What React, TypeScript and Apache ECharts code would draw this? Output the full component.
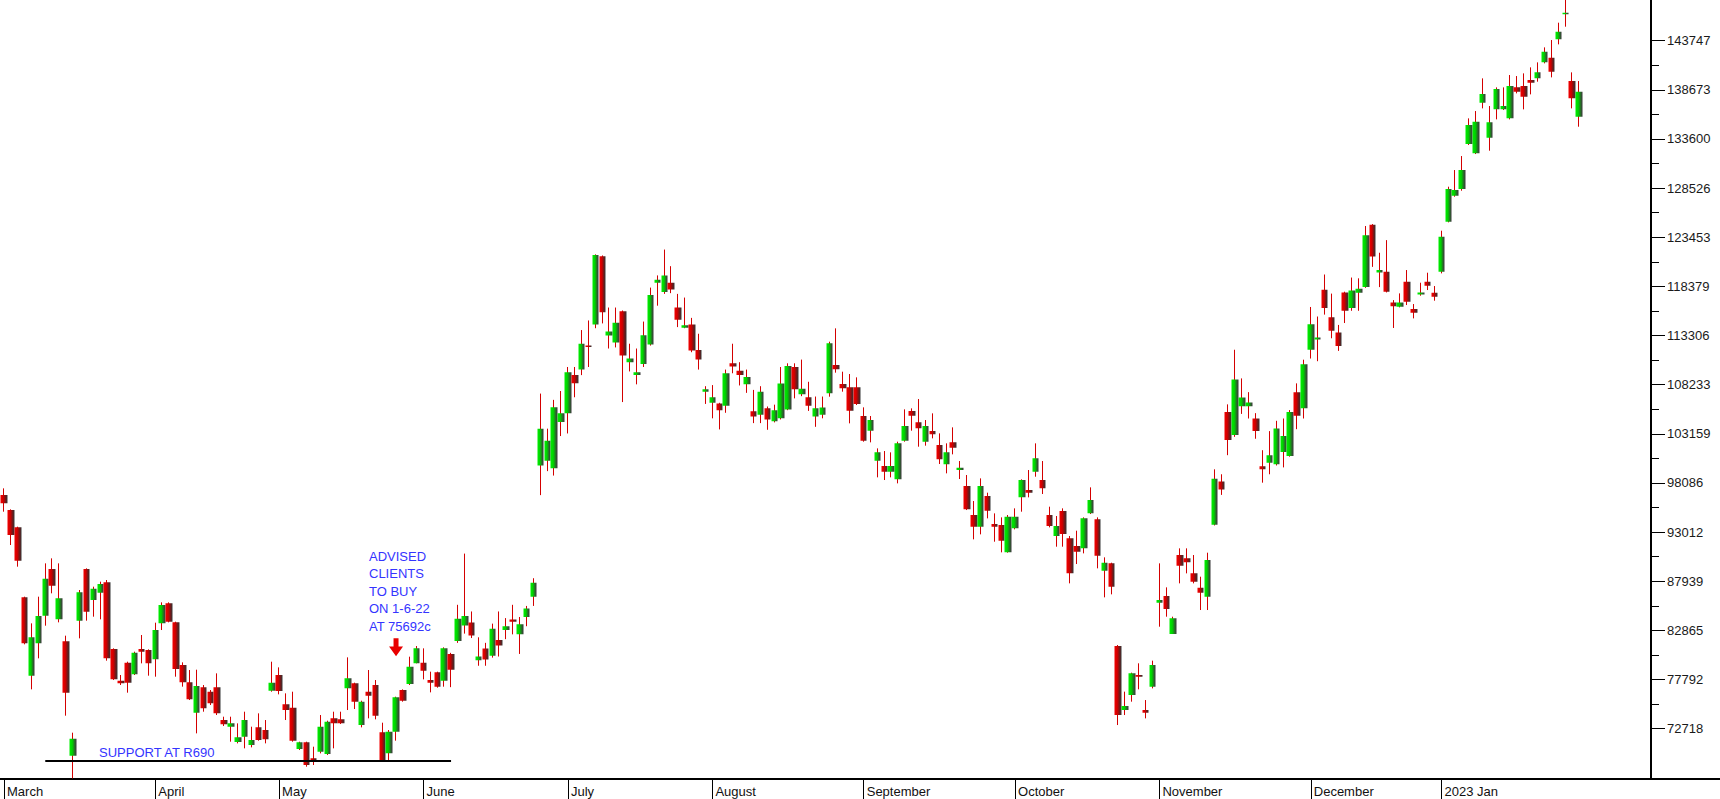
import React, { useEffect, useRef } from "react";
import * as echarts from "echarts";

// ---- price data, [open, high, low, close] in cents, one row per trading day ----
const MAR_2022 = [
  [96837, 97525, 95116, 95976], [95288, 95357, 91674, 92707], [93498, 93567, 89437, 90056],
  [86270, 86339, 81418, 81520], [78182, 83585, 76771, 82139], [81520, 86339, 79972, 84343],
  [84378, 89781, 83345, 88198], [89196, 90297, 86684, 87475], [83999, 89781, 83689, 86167],
  [81727, 82312, 74052, 76427], [69921, 72297, 67582, 71677], [83861, 87027, 82037, 86787],
  [89196, 89265, 83861, 84790], [85995, 87372, 84274, 87165], [86752, 87888, 83999, 87647],
  [87819, 88060, 79731, 79972], [80936, 81004, 77734, 77803], [77665, 78251, 77218, 77390],
  [79524, 79627, 76427, 77459], [78320, 80660, 78251, 80557], [80936, 82381, 79455, 80660],
  [80832, 80901, 78182, 79455],
];
const APR_2022 = [
  [79868, 83654, 78079, 82897], [83585, 85754, 82897, 85478], [85650, 85754, 83689, 83757],
  [83689, 83757, 78079, 78870], [79283, 79559, 77046, 77493], [77493, 78767, 75669, 75738],
  [74361, 78800, 72226, 77115], [76977, 77218, 74464, 74808], [76529, 76701, 75153, 75325],
  [76977, 78423, 74120, 74292], [73604, 73948, 72984, 73157], [72915, 73948, 71366, 73259],
  [71332, 73259, 71194, 71814], [71883, 74464, 70678, 73604], [71022, 72915, 70781, 71539],
  [72846, 74292, 71470, 71539], [72571, 73604, 71194, 71608], [76633, 79627, 76529, 77459],
];
const MAY_2022 = [
  [78250, 79042, 76254, 76598], [75221, 76357, 73604, 74636], [74877, 76529, 71366, 71470],
  [70609, 71366, 70506, 71298], [71298, 71366, 68785, 68957], [69646, 70850, 68957, 69301],
  [70334, 74120, 70162, 72915], [70093, 73535, 69990, 73432], [73776, 74464, 70678, 73259],
  [73673, 74464, 73190, 73259], [76874, 80075, 74636, 77906], [77390, 77459, 74739, 75497],
  [73087, 75600, 72846, 75497], [76529, 78767, 73776, 76116], [77218, 77733, 73673, 74051],
  [72330, 73328, 69404, 69473], [70162, 72571, 69404, 72399], [72399, 76014, 71470, 75945],
  [76701, 76770, 75497, 75600], [77321, 80144, 77218, 79111], [79455, 81245, 79455, 81004],
];
const JUN_2022 = [
  [79524, 81004, 77802, 78698], [77733, 78595, 76461, 77459], [78526, 78595, 76942, 77046],
  [77665, 81107, 77046, 81004], [80427, 80541, 76997, 78787], [81763, 85500, 81572, 84051],
  [83365, 90787, 82525, 84356], [83670, 84813, 82068, 82334], [79779, 82144, 79207, 80160],
  [80999, 81572, 79207, 79855], [80236, 83556, 80046, 83022], [81877, 84813, 80160, 81305],
  [82907, 84127, 81953, 83288], [83975, 85500, 82449, 83746], [82449, 84242, 80427, 83480],
  [84242, 85385, 83288, 85118], [86338, 88245, 85385, 87788], [99874, 107310, 96824, 103688],
  [100370, 103688, 99302, 102429], [99607, 106662, 98845, 105899], [104374, 107577, 102925, 105289],
];
const JUL_2022 = [
  [105289, 110056, 103192, 109522], [109216, 110056, 106929, 108378], [109789, 113869, 109216, 112458],
  [112267, 114860, 110056, 112114], [114441, 121685, 114059, 121609], [121494, 121571, 114555, 115699],
  [113297, 116195, 111962, 113716], [112572, 116195, 112076, 114631], [115813, 115889, 106433, 111237],
  [110551, 112458, 109598, 110932], [109216, 111962, 108263, 109522], [110361, 114746, 110056, 113335],
  [112381, 118253, 112267, 117491], [118749, 119512, 116385, 119054], [117796, 122181, 117605, 119512],
  [118749, 120465, 117681, 118063], [116195, 117605, 114174, 114936], [114097, 117224, 114059, 114364],
  [114441, 115127, 111580, 111771], [111809, 113487, 109789, 110818], [107500, 108072, 106242, 107767],
];
const AUG_2022 = [
  [106357, 108187, 104755, 106929], [106280, 106357, 103611, 105594], [106052, 109789, 105327, 109407],
  [110437, 112458, 109407, 110094], [109674, 110551, 108149, 109216], [108263, 109789, 107386, 109026],
  [105480, 107691, 104260, 104945], [105136, 108072, 104260, 107500], [105785, 105975, 103573, 104641],
  [104450, 106166, 104336, 105594], [104755, 110056, 104641, 108339], [105670, 110437, 105594, 110170],
  [110056, 110437, 106814, 107767], [107234, 110818, 107043, 107805], [106929, 108530, 105518, 106052],
  [104945, 107005, 103878, 105785], [105136, 107005, 104755, 105861], [107334, 112669, 106989, 112497],
  [110259, 114045, 109468, 109812], [108297, 109571, 107506, 107850], [107953, 109330, 104236, 105544],
  [107953, 108986, 106129, 106232],
];
const SEP_2022 = [
  [104993, 105888, 102343, 102446], [103479, 104993, 102274, 104580], [100381, 101654, 98660, 101241],
  [99830, 101379, 98384, 99244], [99244, 101241, 98660, 99830], [98453, 102343, 98040, 102171],
  [102446, 105682, 102343, 103961], [105510, 105785, 103479, 105028], [104339, 106748, 101826, 103720],
  [102343, 104580, 101930, 103961], [103444, 105268, 102687, 103100], [101999, 103203, 100037, 100519],
  [100002, 102171, 99073, 101241], [102274, 103823, 101035, 101723], [99417, 100347, 98488, 99658],
  [97765, 98901, 95286, 95355], [94770, 96216, 92258, 93566], [93566, 98556, 92775, 97765],
  [96733, 97077, 94426, 95218], [93841, 94942, 92017, 93566], [93738, 94529, 90916, 92120],
  [90916, 94770, 90882, 94598],
];
const OCT_2022 = [
  [93394, 95459, 93291, 94598], [96595, 98454, 95115, 98385], [97352, 99417, 96595, 97077],
  [99245, 102171, 98729, 100622], [98385, 100347, 96939, 97524], [94771, 95631, 93497, 93635],
  [92602, 94668, 91501, 93635], [95184, 95459, 91501, 92809], [92361, 92602, 87715, 88747],
  [91570, 93153, 89711, 90985], [91329, 94530, 90812, 94427], [94943, 97628, 94874, 96320],
  [94323, 94530, 89264, 90572], [89023, 90400, 86270, 89849], [89780, 89849, 86580, 87371],
  [81244, 81347, 73086, 74119], [74635, 76533, 74119, 75048], [76189, 78495, 75498, 78426],
  [78254, 79458, 76773, 78081], [74635, 75667, 73775, 74360], [77045, 79734, 76873, 79286],
];
const NOV_2022 = [
  [85718, 89780, 83240, 85994], [86407, 87302, 84273, 85064], [82483, 84273, 82483, 84101],
  [90640, 91329, 87715, 89539], [90296, 91329, 88747, 89883], [88747, 90640, 87715, 87887],
  [87267, 88403, 84961, 86751], [86338, 90881, 84961, 90124], [93772, 99490, 93693, 98505],
  [98228, 98979, 96848, 97401], [105407, 106196, 100950, 102528], [103041, 111836, 102844, 108760],
  [105999, 108878, 105210, 106906], [105999, 107458, 104737, 106393], [104737, 105289, 102646, 103435],
  [99807, 101463, 98110, 99491], [100162, 103435, 98978, 100950], [100004, 104499, 99886, 103711],
  [101266, 104737, 99688, 102922], [100872, 105604, 100793, 105407], [107458, 108365, 103632, 105013],
  [105802, 110810, 104737, 110337],
];
const DEC_2022 = [
  [111836, 116253, 110928, 114478], [112900, 115267, 110652, 113098], [118028, 119605, 115464, 116135],
  [115188, 117633, 113019, 113808], [113611, 114399, 111717, 112230], [117752, 117830, 114596, 115858],
  [116135, 119290, 115858, 117949], [117712, 119211, 115858, 118146], [118304, 124614, 118225, 123668],
  [124733, 124811, 120394, 121459], [119802, 121853, 118304, 120079], [119881, 123155, 117752, 117830],
  [116726, 116963, 114084, 116332], [116280, 117656, 116211, 116727], [118861, 120066, 116452, 116795],
  [116039, 116555, 115075, 115660], [117553, 118758, 117415, 117760], [118861, 119791, 118001, 118448],
  [117725, 118414, 116899, 117312],
];
const JAN_2023 = [
  [119894, 124127, 119722, 123508], [125057, 128671, 124988, 128430], [127742, 130392, 127638, 128327],
  [128430, 131838, 128258, 130392], [133077, 135727, 132974, 135039], [132113, 136484, 132044, 135383],
  [137345, 139857, 136760, 138240], [133731, 137001, 132389, 135314], [136656, 138928, 135624, 138756],
  [136656, 138928, 136588, 137001], [135727, 140202, 135624, 139066], [138928, 140098, 138308, 138480],
  [139066, 140374, 136656, 137964], [139685, 140993, 138205, 139410], [139857, 141509, 139513, 140477],
  [141509, 143058, 141406, 142611], [141991, 143816, 139960, 140546], [143884, 145605, 143368, 144676],
  [146466, 148500, 145192, 146638], [139582, 140477, 136760, 137792], [135899, 139582, 134866, 138480],
];

// JSE trading calendar
const FIRST_DAY = "2022-03-01";
const HOLIDAYS = [
  "2022-03-21", "2022-04-15", "2022-04-18", "2022-04-27", "2022-05-02", "2022-06-16",
  "2022-08-09", "2022-12-16", "2022-12-26", "2022-12-27", "2023-01-02",
];
const EMPTY_DAYS_AFTER = 20; // empty space right of the last candle

const Y_LABELS = [
  72718, 77792, 82865, 87939, 93012, 98086, 103159, 108233,
  113306, 118379, 123453, 128526, 133600, 138673, 143747,
];
const Y_MIN = 67514;
const Y_MAX = 147949;

const MONTHS = [
  "January", "February", "March", "April", "May", "June",
  "July", "August", "September", "October", "November", "December",
];

const SUPPORT_LEVEL = 69400;
const SUPPORT_FROM = 6;
const SUPPORT_TO = 65;
const BUY_ARROW_DAY = 57;
const BUY_ARROW_LEVEL = 81120;

const SUPPORT_TEXT = "SUPPORT AT R690";
const ADVICE_LINES = ["ADVISED", "CLIENTS", "TO BUY", "ON 1-6-22", "AT 75692c"];

const OHLC = [
  ...MAR_2022, ...APR_2022, ...MAY_2022, ...JUN_2022, ...JUL_2022, ...AUG_2022,
  ...SEP_2022, ...OCT_2022, ...NOV_2022, ...DEC_2022, ...JAN_2023,
];

function tradingDays(count: number): string[] {
  const out: string[] = [];
  const d = new Date(FIRST_DAY + "T00:00:00Z");
  while (out.length < count) {
    const s = d.toISOString().slice(0, 10);
    const wd = d.getUTCDay();
    if (wd !== 0 && wd !== 6 && !HOLIDAYS.includes(s)) out.push(s);
    d.setUTCDate(d.getUTCDate() + 1);
  }
  return out;
}

const FONT = '"Liberation Sans", Arial, Helvetica, sans-serif';
const BLUE = "#3434ff";

export default function App() {
  const ref = useRef<HTMLDivElement>(null);

  useEffect(() => {
    if (!ref.current) return;
    const chart = echarts.init(ref.current, undefined, { renderer: "svg" });

    const nData = OHLC.length;
    const dates = tradingDays(nData + EMPTY_DAYS_AFTER);
    const isMonthStart = (index: number) =>
      index < nData && (index === 0 || dates[index].slice(0, 7) !== dates[index - 1].slice(0, 7));

    const candleData = OHLC.map(([o, h, l, c]) => [o, c, l, h]);
    const minorTicks = Y_LABELS.slice(1).map((v, i) => (v + Y_LABELS[i]) / 2);

    const greenFill = new echarts.graphic.LinearGradient(0, 0, 1, 0, [
      { offset: 0, color: "#00ee00" },
      { offset: 0.4, color: "#00d200" },
      { offset: 0.8, color: "#2f5a2f" },
      { offset: 1, color: "#3a3a3a" },
    ]);
    const redFill = new echarts.graphic.LinearGradient(0, 0, 1, 0, [
      { offset: 0, color: "#f20000" },
      { offset: 0.4, color: "#d00000" },
      { offset: 0.8, color: "#5a2020" },
      { offset: 1, color: "#3a3a3a" },
    ]);

    const yCommon = {
      type: "value" as const,
      position: "right" as const,
      offset: -69,
      min: Y_MIN,
      max: Y_MAX,
      splitLine: { show: false },
    };

    chart.setOption({
      animation: false,
      backgroundColor: "#ffffff",
      grid: { left: 0.56, right: 0, top: 0, bottom: 20 },
      xAxis: {
        type: "category",
        data: dates,
        boundaryGap: true,
        axisLine: { show: true, onZero: false, lineStyle: { color: "#000", width: 2 } },
        axisTick: {
          show: true,
          alignWithLabel: true,
          interval: (i: number) => isMonthStart(i),
          length: 20,
          lineStyle: { color: "#000", width: 1 },
        },
        axisLabel: {
          interval: (i: number) => isMonthStart(i),
          formatter: (v: string) => {
            const m = parseInt(v.slice(5, 7), 10) - 1;
            return m === 0 ? `${v.slice(0, 4)} Jan` : MONTHS[m];
          },
          align: "left",
          margin: 6,
          padding: [0, 0, 0, 3],
          color: "#111",
          fontSize: 13,
          fontFamily: FONT,
        },
        splitLine: { show: false },
      },
      yAxis: [
        {
          ...yCommon,
          axisLine: { show: true, lineStyle: { color: "#000", width: 2 } },
          axisTick: {
            show: true,
            customValues: Y_LABELS,
            length: 14,
            lineStyle: { color: "#000", width: 1 },
          },
          axisLabel: {
            customValues: Y_LABELS,
            margin: 16,
            color: "#1a1a1a",
            fontSize: 13,
            fontFamily: FONT,
            formatter: (v: number) => String(Math.round(v)),
          },
        },
        {
          ...yCommon,
          axisLine: { show: false },
          axisTick: {
            show: true,
            customValues: minorTicks,
            length: 8,
            lineStyle: { color: "#000", width: 1 },
          },
          axisLabel: { show: false },
        },
      ],
      series: [
        {
          name: "wicks",
          type: "candlestick",
          data: candleData,
          barWidth: 1,
          silent: true,
          itemStyle: {
            color: "#d40000",
            color0: "#d40000",
            borderColor: "#d40000",
            borderColor0: "#d40000",
            borderWidth: 1,
          },
        },
        {
          name: "bodies",
          type: "candlestick",
          data: candleData,
          barWidth: 7,
          silent: true,
          itemStyle: {
            color: greenFill,
            color0: redFill,
            borderColor: "rgba(0,0,0,0)",
            borderColor0: "rgba(0,0,0,0)",
            borderWidth: 0,
          },
          markLine: {
            silent: true,
            symbol: ["none", "none"],
            label: { show: false },
            lineStyle: { color: "#000", width: 2, type: "solid" },
            data: [
              [
                { coord: [SUPPORT_FROM, SUPPORT_LEVEL] },
                { coord: [SUPPORT_TO, SUPPORT_LEVEL] },
              ],
            ],
          },
          markPoint: {
            silent: true,
            symbol: "path://M4.5,0 L9.5,0 L9.5,8 L14,8 L7,17.5 L0,8 L4.5,8 Z",
            symbolSize: [14, 18],
            itemStyle: { color: "#e80000" },
            label: { show: false },
            data: [{ coord: [BUY_ARROW_DAY, BUY_ARROW_LEVEL] }],
          },
        },
      ],
      graphic: [
        {
          type: "text",
          left: 99,
          top: 744,
          style: { text: SUPPORT_TEXT, fill: BLUE, font: `13px ${FONT}`, lineHeight: 16 },
        },
        ...ADVICE_LINES.map((t, k) => ({
          type: "text",
          left: 369,
          top: 547.4 + k * 17.6,
          style: { text: t, fill: BLUE, font: `13px ${FONT}`, lineHeight: 17.6 },
        })),
      ],
    });

    return () => chart.dispose();
  }, []);

  return (
    <div
      ref={ref}
      style={{ position: "absolute", left: 0, top: 0, width: 1720, height: 799, background: "#fff" }}
    />
  );
}
